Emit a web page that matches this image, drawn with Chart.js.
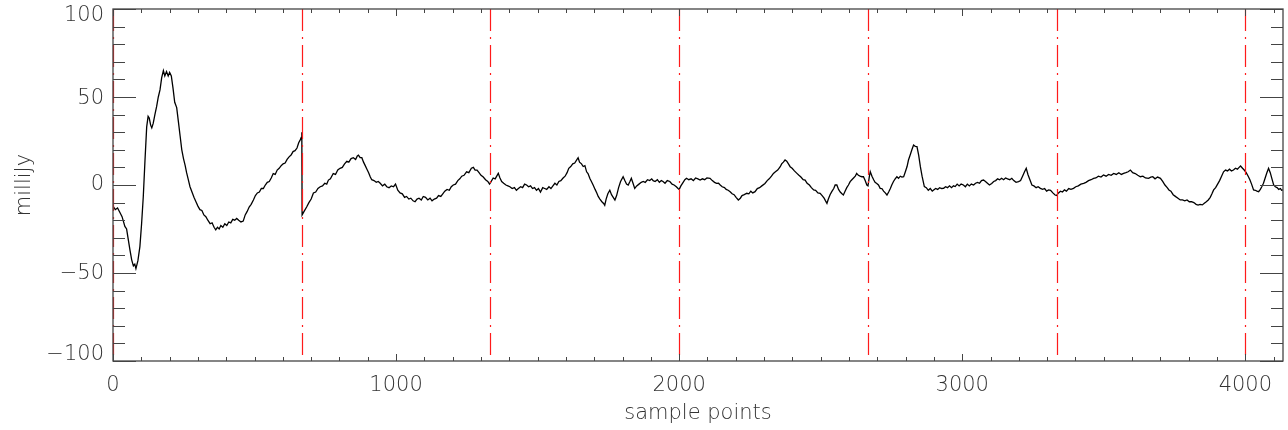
<!DOCTYPE html>
<html lang="en">
<head>
    <meta charset="UTF-8">
    <title>milliJy vs sample points</title>
    <script src="https://cdn.jsdelivr.net/npm/chart.js"></script>
    <style>
        html, body { margin: 0; padding: 0; background: #fff; }
        #wrap { width: 1288px; height: 430px; }
    </style>
</head>
<body>
<div id="wrap"><canvas id="myChart" width="1288" height="430"></canvas></div>
<script>
// values
const samples = [
    0, 8, 16, 24, 32, 42, 48, 54, 60, 66, 72, 77, 81, 88, 95, 101, 107, 113, 119, 124,
    128, 133, 137, 142, 148, 154, 160, 166, 172, 178, 183, 189, 195, 200, 206, 212, 218, 225, 231, 237,
    243, 249, 255, 260, 266, 272, 279, 286, 293, 300, 307, 314, 321, 328, 335, 343, 350, 357, 363, 369,
    375, 381, 388, 395, 402, 409, 416, 423, 430, 437, 444, 452, 460, 467, 474, 481, 488, 496, 503, 510,
    517, 524, 531, 538, 545, 552, 559, 566, 573, 580, 587, 594, 601, 608, 615, 622, 629, 636, 643, 650,
    656, 661, 665, 667,
    668, 675, 684, 692, 700, 708, 716, 724, 732, 740, 748, 755, 761, 768, 778, 786, 794, 802, 810, 818,
    826, 833, 841, 849, 857, 863, 867, 873, 879, 885, 891, 897, 903, 909, 914, 922, 930, 937, 944, 952,
    960, 967, 975, 983, 991, 998, 1006, 1014, 1022, 1030, 1037, 1045, 1052, 1060, 1067, 1074, 1081, 1089, 1096, 1104,
    1112, 1120, 1127, 1135, 1143, 1150, 1158, 1165, 1172, 1180, 1188, 1195, 1202, 1210, 1218, 1225, 1232, 1240, 1249, 1257,
    1266, 1273, 1279, 1286, 1293, 1300, 1308, 1316, 1324, 1330, 1334,
    1343, 1350, 1361, 1367, 1373, 1380, 1388, 1395, 1402, 1410, 1418, 1425, 1432, 1440, 1447, 1454, 1461, 1468, 1475, 1482,
    1489, 1496, 1503, 1510, 1518, 1525, 1532, 1540, 1547, 1554, 1561, 1568, 1575, 1582, 1590, 1597, 1604, 1610, 1617, 1624,
    1631, 1637, 1643, 1648, 1655, 1661, 1667, 1673, 1678, 1685, 1690, 1696, 1703, 1709, 1714, 1720, 1727, 1733, 1737, 1742,
    1748, 1755, 1761, 1767, 1773, 1779, 1786, 1793, 1802, 1808, 1814, 1820, 1826, 1831, 1837, 1843, 1850, 1858, 1866, 1873,
    1880, 1888, 1896, 1903, 1908, 1915, 1923, 1930, 1937, 1943, 1950, 1958, 1967, 1975, 1982, 1990, 1996, 2000,
    2006, 2014, 2020, 2026, 2034, 2042, 2050, 2058, 2066, 2074, 2082, 2090, 2098, 2109, 2117, 2125, 2132, 2139, 2145, 2152,
    2160, 2166, 2173, 2180, 2187, 2194, 2201, 2209, 2216, 2222, 2230, 2239, 2246, 2253, 2260, 2268, 2276, 2284, 2292, 2303,
    2311, 2318, 2326, 2333, 2340, 2348, 2357, 2362, 2368, 2374, 2380, 2386, 2392, 2399, 2407, 2416, 2423, 2430, 2438, 2445,
    2452, 2460, 2467, 2475, 2482, 2490, 2498, 2505, 2512, 2517, 2522, 2527, 2533, 2539, 2546, 2551, 2557, 2563, 2569, 2575,
    2580, 2586, 2592, 2598, 2604, 2610, 2616, 2622, 2627, 2633, 2639, 2645, 2651, 2657, 2663, 2667,
    2672, 2675, 2681, 2687, 2692, 2698, 2704, 2710, 2716, 2722, 2728, 2734, 2740, 2746, 2751, 2757, 2763, 2769, 2775, 2781,
    2787, 2793, 2799, 2805, 2810, 2816, 2822, 2828, 2834, 2840, 2846, 2852, 2858, 2866, 2873, 2880, 2887, 2894, 2899, 2906,
    2913, 2920, 2927, 2934, 2941, 2948, 2955, 2962, 2969, 2975, 2982, 2989, 2996, 3004, 3011, 3018, 3025, 3032, 3040, 3047,
    3054, 3061, 3068, 3075, 3082, 3089, 3096, 3104, 3111, 3118, 3125, 3132, 3139, 3146, 3153, 3160, 3168, 3175, 3182, 3190,
    3199, 3206, 3213, 3220, 3226, 3232, 3239, 3246, 3253, 3261, 3268, 3276, 3284, 3291, 3298, 3305, 3312, 3320, 3328, 3333,
    3340, 3347, 3354, 3361, 3368, 3376, 3384, 3393, 3401, 3410, 3419, 3429, 3437, 3446, 3455, 3464, 3472, 3481, 3490, 3499,
    3508, 3517, 3526, 3535, 3544, 3553, 3562, 3570, 3578, 3586, 3594, 3602, 3611, 3620, 3629, 3638, 3647, 3658, 3666, 3673,
    3681, 3690, 3700, 3708, 3716, 3724, 3730, 3737, 3745, 3754, 3762, 3770, 3778, 3786, 3794, 3802, 3810, 3818, 3826, 3833,
    3840, 3848, 3855, 3862, 3869, 3876, 3882, 3888, 3895, 3902, 3909, 3916, 3923, 3930, 3937, 3944, 3951, 3958, 3965, 3972,
    3978, 3983, 3990, 3996, 4003, 4010, 4016, 4022, 4029, 4035, 4041, 4047, 4053, 4058, 4064, 4070, 4076, 4082, 4088, 4094,
    4100, 4106, 4112, 4118, 4124, 4128, 4133
];
const milliJy = [
    -12, -14, -13, -15.5, -18, -23.5, -25, -31, -37, -42.5, -46, -45, -47.5, -43, -35, -22, -6.5, 14, 33, 39,
    38, 34, 32.5, 35, 40, 44.5, 50, 54, 61, 65, 62, 64.5, 62, 64, 62, 55, 47, 44, 36, 28,
    20, 15, 11, 7, 3, -1, -4, -7, -9.5, -12, -14, -14.5, -17, -18, -20, -22, -21.5, -24, -25.5, -24,
    -25, -23, -24, -22, -23, -21, -21.5, -19.5, -20, -19, -20, -21, -20.5, -17, -15, -12.5, -11, -8.5, -6, -4.5,
    -4, -2, -2, 0, 1.5, 2, 4, 6.5, 6, 8.5, 9.5, 11, 12, 12.5, 14.5, 16, 17, 19, 19.5, 21,
    24, 25.5, 27, 30,
    -17, -15, -12.5, -10, -8, -4.5, -4, -2, -1, -0.5, 1, 0.5, 2.8, 3.5, 6.5, 6, 8.5, 9.5, 10, 12,
    13.5, 13, 15, 15.5, 14.5, 16.5, 17, 15.5, 15.5, 13, 11, 9, 7, 4.5, 3, 2.5, 1.5, 2, 1, -0.5,
    0.5, -1, -1.5, -0.5, -1, 0.5, -3, -4.5, -5, -7, -6.5, -8, -7.5, -9, -9.5, -8, -7.5, -8.5, -6.5, -7,
    -8.5, -7.5, -9, -8, -7.5, -6, -6.5, -5, -3.5, -2.5, -3, -1, 0, 0.5, 2.5, 3.5, 5, 5.5, 7.5, 7,
    9.5, 10, 8.5, 8.5, 7, 5.5, 4.5, 3, 2, 0.5, 1.5,
    4, 3.5, 6.6, 4, 2, 1, 0, -0.5, -1, -2, -1.5, -3, -2, -1, -1.5, 0.5, 0, -1, -0.5, -2,
    -1.5, -3, -2, -4, -1.5, -2, -2.5, -1, -2, -0.5, 1, 0, 2, 2.5, 4, 5, 7, 9.5, 10.5, 12,
    12.5, 14, 15.5, 13, 12, 10.5, 11, 7.5, 6.5, 3.5, 2, 0, -2.5, -4.5, -6.5, -8, -9.5, -10.5, -11.5, -8,
    -5, -3, -5.5, -7, -8.5, -6, -1.5, 2, 4.7, 2.5, 0.5, 0, 2, 3.8, 1, -1.9, -0.5, 0.5, 1.5, 2,
    1.5, 3, 2.5, 3.5, 2.5, 2, 3, 1.5, 2.5, 2, 1, 2.5, 2, 0.5, 0, -1, -2, -2.5,
    -0.5, 1.5, 3, 3.8, 3, 3.5, 2.5, 4, 3.5, 2.8, 3.5, 3, 4, 3.8, 2.5, 1.5, 0.9, 1, 0, -1,
    -1.5, -2.5, -3, -3.8, -5, -5.5, -7, -8.5, -7.5, -6, -5.5, -4.7, -5, -3.5, -4.5, -3.8, -2, -1.5, -0.5, 0.9,
    2.5, 3.5, 5, 6.6, 7.5, 8.5, 10.4, 12, 13, 14.2, 13.5, 12, 10.4, 9.5, 8, 6.6, 5.5, 4.5, 3, 2.8,
    1, 0, -1.5, -2.8, -3, -4.5, -4.7, -6, -7.5, -9, -10.4, -8, -5.5, -3.8, -2, 0, 0, -2.5, -4, -5,
    -5.7, -3.5, -1.5, 0, 1.9, 3, 4, 5, 6.6, 5.5, 5, 4.7, 4.7, 2.5, 0, -0.5,
    5, 7.6, 5, 3, 1.5, 0.9, 0, -1.9, -2, -3.5, -4.5, -5.7, -4, -2, 0, 2, 3.5, 4.7, 3.8, 5,
    4.5, 4.7, 7.5, 10.5, 14.2, 17, 20, 22.7, 22, 21.8, 17, 10.4, 5, -0.9, -1.5, -3, -2, -3.5, -2.8, -2,
    -2.5, -1.5, -2, -1.9, -1, -1.5, -0.5, -1.5, -0.5, -0.9, 0.5, -0.5, 0.5, 0, -1, 0.5, -0.5, 0.5, 0, 1,
    1.5, 1, 2.5, 2.8, 2, 1, 0, 0.9, 2, 2.5, 3.5, 3, 3.8, 3, 4, 3.5, 3, 3.8, 2.5, 1.5,
    1.9, 2.5, 5, 7.5, 9.5, 6, 3, 0, -0.5, -1.5, -1, -1.9, -2.5, -2, -3.5, -2.8, -3, -4.5, -5.7, -6,
    -4.5, -3.5, -4, -2.8, -3.5, -2, -2.5, -1.9, -1, -0.5, 0.5, 0.9, 1.5, 2.5, 3, 3.8, 4, 5, 4.5, 5.7,
    5, 6, 5.5, 6.6, 6, 7, 6, 6.6, 7, 7.5, 8.5, 7, 6.5, 5.5, 4.7, 5, 4, 3.8, 4.5, 4.7,
    3.5, 4.5, 3.8, 2, 0, -1.5, -2.8, -3.5, -5.5, -6.6, -7.5, -8.5, -8.5, -9, -8.5, -9.5, -9.4, -10, -11, -11.4,
    -11, -11.3, -10.4, -9.5, -8.5, -7, -5, -2.8, -1.5, 0.5, 2.5, 5, 7.5, 8.5, 8, 9, 8, 8.5, 9.5, 9,
    10, 10.8, 9.5, 8.5, 7, 5, 3, 0.5, -2.8, -3, -3.5, -3.8, -2.5, -1, 1, 4, 7, 9.5, 7, 3.5,
    0, -1, -1.5, -2.5, -2, -3, -2.8
];

const xTicks = [0, 1000, 2000, 3000, 4000];
const yTicks = [-100, -50, 0, 50, 100];
const yTickLabels = ['\u2212100', '\u221250', '0', '50', '100'];
const markers = [0, 666.67, 1333.33, 2000, 2666.67, 3333.33, 4000];

const FONT = "'DejaVu Sans', sans-serif";

// box, inward ticks, y labels and the red dash-dot markers
const idlFrame = {
    id: 'idlFrame',
    afterDatasetsDraw(chart) {
        const ctx = chart.ctx;
        const a = chart.chartArea;
        const xs = chart.scales.x, ys = chart.scales.y;
        ctx.save();

        ctx.strokeStyle = '#ff1a1a';
        ctx.lineWidth = 1.2;
        ctx.setLineDash([22, 6, 2, 6]);
        markers.forEach(m => {
            const px = Math.round(xs.getPixelForValue(m)) + 0.5;
            ctx.beginPath();
            ctx.moveTo(px, a.top);
            ctx.lineTo(px, a.bottom);
            ctx.stroke();
        });
        ctx.setLineDash([]);

        ctx.strokeStyle = '#444';
        ctx.lineWidth = 1.3;
        ctx.strokeRect(a.left, a.top, a.right - a.left, a.bottom - a.top);

        ctx.lineWidth = 1;
        ctx.beginPath();
        for (let v = 0; v <= 4100; v += 100) {
            const px = Math.round(xs.getPixelForValue(v)) + 0.5;
            const len = v % 1000 === 0 ? 7 : 4;
            ctx.moveTo(px, a.bottom); ctx.lineTo(px, a.bottom - len);
            ctx.moveTo(px, a.top); ctx.lineTo(px, a.top + len);
        }
        for (let v = -100; v <= 100; v += 10) {
            const py = Math.round(ys.getPixelForValue(v)) + 0.5;
            const len = v % 50 === 0 ? 23 : 12;
            ctx.moveTo(a.left, py); ctx.lineTo(a.left + len, py);
            ctx.moveTo(a.right, py); ctx.lineTo(a.right - len, py);
        }
        ctx.stroke();

        // IDL-style y labels: the end labels sit inside the axis range
        ctx.fillStyle = '#333';
        ctx.font = '200 21px ' + FONT;
        ctx.textAlign = 'right';
        ctx.textBaseline = 'middle';
        yTicks.forEach((v, i) => {
            let py = ys.getPixelForValue(v);
            if (v === 100) py += 7;
            else if (v === -100) py -= 6;
            else if (v > 0) py += 2;
            else if (v < 0) py += 1;
            ctx.fillText(yTickLabels[i], a.left - 9, py);
        });
        ctx.restore();
    }
};

const data = {
    datasets: [{
        label: 'milliJy',
        data: samples.map((s, i) => ({x: s, y: milliJy[i]})),
        borderColor: '#000',
        borderWidth: 1.3,
        pointRadius: 0,
        tension: 0,
        fill: false
    }]
};

const config = {
    type: 'line',
    data: data,
    options: {
        responsive: false,
        animation: false,
        layout: { padding: { top: 9, right: 5, left: 0, bottom: 0 } },
        plugins: {
            legend: { display: false },
            tooltip: { enabled: false }
        },
        scales: {
            x: {
                type: 'linear',
                min: 0,
                max: 4133,
                afterBuildTicks: s => { s.ticks = xTicks.map(v => ({value: v})); },
                afterFit: s => { s.height = 69; },
                grid: { display: false, drawTicks: false },
                border: { display: false },
                ticks: {
                    color: '#333',
                    padding: 12,
                    maxRotation: 0,
                    font: { family: FONT, size: 21, weight: 200 },
                    callback: (v) => String(v)
                },
                title: {
                    display: true,
                    text: 'sample points',
                    color: '#333',
                    padding: { top: 2 },
                    font: { family: FONT, size: 21, weight: 200 }
                }
            },
            y: {
                min: -100,
                max: 100,
                afterBuildTicks: s => { s.ticks = yTicks.map(v => ({value: v})); },
                afterFit: s => { s.width = 113; s.paddingTop = 0; s.paddingBottom = 0; },
                grid: { display: false, drawTicks: false },
                border: { display: false },
                ticks: {
                    display: false
                },
                title: {
                    display: true,
                    text: 'milliJy',
                    color: '#333',
                    padding: { top: 12, bottom: 0 },
                    font: { family: FONT, size: 21, weight: 200 }
                }
            }
        }
    },
    plugins: [idlFrame]
};

const myChart = new Chart(document.getElementById('myChart'), config);
</script>
</body>
</html>
